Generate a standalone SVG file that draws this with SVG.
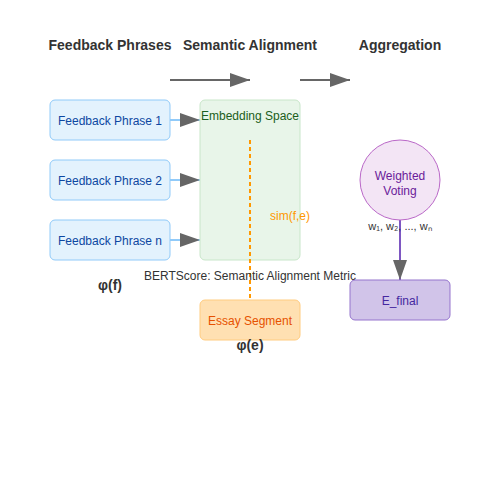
<svg xmlns="http://www.w3.org/2000/svg" width="500" height="500" viewBox="0 0 500 500">
<defs>
<marker id="arr" viewBox="0 0 10 7" refX="10" refY="3.5" markerWidth="10" markerHeight="7" markerUnits="strokeWidth" orient="auto">
<polygon points="0,0 10,3.5 0,7" fill="#666"/>
</marker>
<style>
text{font-family:"Liberation Sans",Arial,sans-serif;}
.h{font-size:14px;font-weight:bold;fill:#333;text-anchor:middle;}
.fb rect{fill:#e3f2fd;stroke:#90caf9;stroke-width:1;}
.fb text{font-size:12px;fill:#0d47a1;text-anchor:middle;}
.lbl{font-size:12px;fill:#333;text-anchor:middle;}
.phi{font-size:14px;font-weight:bold;fill:#333;text-anchor:middle;}
</style>
</defs>
<rect width="500" height="500" fill="#fff"/>
<g id="headings">
<text class="h" x="110" y="50">Feedback Phrases</text>
<text class="h" x="250" y="50">Semantic Alignment</text>
<text class="h" x="400" y="50">Aggregation</text>
</g>
<g id="connectors">
<line x1="170" y1="80" x2="250" y2="80" stroke="#666" stroke-width="2" marker-end="url(#arr)"/>
<line x1="300" y1="80" x2="350" y2="80" stroke="#666" stroke-width="2" marker-end="url(#arr)"/>
<line x1="170" y1="120" x2="200" y2="120" stroke="#90caf9" stroke-width="2" marker-end="url(#arr)"/>
<line x1="170" y1="180" x2="200" y2="180" stroke="#90caf9" stroke-width="2" marker-end="url(#arr)"/>
<line x1="170" y1="240" x2="200" y2="240" stroke="#90caf9" stroke-width="2" marker-end="url(#arr)"/>
<line x1="400" y1="220" x2="400" y2="280" stroke="#7e57c2" stroke-width="2" marker-end="url(#arr)"/>
</g>
<g id="fp1" class="fb"><rect x="50" y="100" width="120" height="40" rx="5"/><text x="110" y="125">Feedback Phrase 1</text></g>
<g id="fp2" class="fb"><rect x="50" y="160" width="120" height="40" rx="5"/><text x="110" y="185">Feedback Phrase 2</text></g>
<g id="fpn" class="fb"><rect x="50" y="220" width="120" height="40" rx="5"/><text x="110" y="245">Feedback Phrase n</text></g>
<g id="embedding">
<rect x="200" y="100" width="100" height="160" rx="5" fill="#e8f5e9" stroke="#c8e6c9" stroke-width="1"/>
<text x="250" y="120" font-size="12" fill="#1b5e20" text-anchor="middle">Embedding Space</text>
</g>
<g id="sim">
<line x1="250" y1="140" x2="250" y2="300" stroke="#ff9800" stroke-width="2" stroke-dasharray="4,3"/>
<text x="270" y="220" font-size="12" fill="#ff9800">sim(f,e)</text>
</g>
<g id="bertscore"><text class="lbl" x="250" y="280">BERTScore: Semantic Alignment Metric</text></g>
<g id="phif"><text class="phi" x="110" y="290">φ(f)</text></g>
<g id="essay">
<rect x="200" y="300" width="100" height="40" rx="5" fill="#ffe0b2" stroke="#ffcc80" stroke-width="1"/>
<text x="250" y="325" font-size="12" fill="#e65100" text-anchor="middle">Essay Segment</text>
</g>
<g id="phie"><text class="phi" x="250" y="350">φ(e)</text></g>
<g id="voting">
<circle cx="400" cy="180" r="40" fill="#f3e5f5" stroke="#ba68c8" stroke-width="1"/>
<text x="400" y="180" font-size="12" fill="#6a1b9a" text-anchor="middle">Weighted</text>
<text x="400" y="195" font-size="12" fill="#6a1b9a" text-anchor="middle">Voting</text>
</g>
<g id="weights"><text x="400" y="230" font-size="11" fill="#333" text-anchor="middle">w₁, w₂, ..., wₙ</text></g>
<g id="efinal">
<rect x="350" y="280" width="100" height="40" rx="5" fill="#d1c4e9" stroke="#9575cd" stroke-width="1"/>
<text x="400" y="305" font-size="12" fill="#4527a0" text-anchor="middle">E_final</text>
</g>
</svg>
